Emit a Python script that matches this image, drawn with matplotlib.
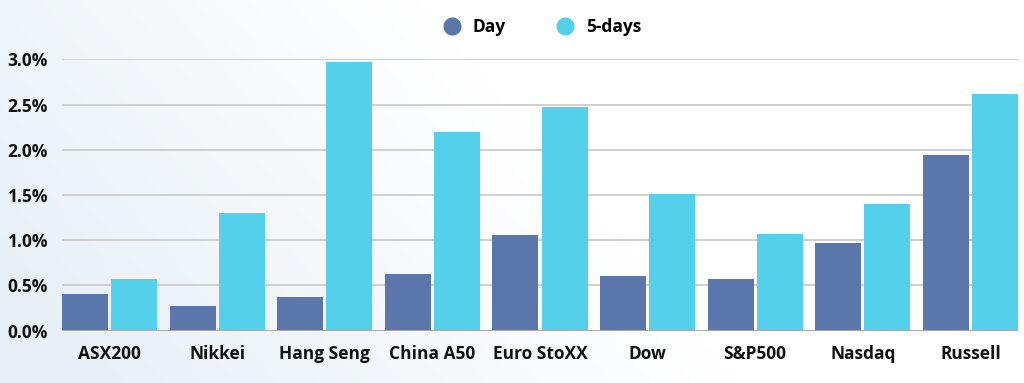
import matplotlib
matplotlib.use("Agg")
import matplotlib.pyplot as plt
import numpy as np
from matplotlib.ticker import FuncFormatter
from matplotlib.lines import Line2D

categories = ["ASX200", "Nikkei", "Hang Seng", "China A50", "Euro StoXX", "Dow", "S&P500", "Nasdaq", "Russell"]
day_values = [0.41, 0.27, 0.37, 0.63, 1.06, 0.61, 0.575, 0.97, 1.94]
five_day_values = [0.57, 1.30, 2.97, 2.20, 2.47, 1.51, 1.065, 1.40, 2.62]
series_names = ["Day", "5-days"]
y_ticks = [0.0, 0.5, 1.0, 1.5, 2.0, 2.5, 3.0]

day_color = "#5a76aa"
five_color = "#55d0eb"
font = ["Open Sans", "DejaVu Sans"]
plt.rcParams['font.family'] = font

fig = plt.figure(figsize=(10.24, 3.83), dpi=100)

# background gradient
bg = fig.add_axes([0, 0, 1, 1], zorder=-10)
bg.set_axis_off()
xx, yy = np.meshgrid(np.linspace(0, 1, 256), np.linspace(0, 1, 128))
t = np.clip(1.15 - (xx * 1.6 + (1 - yy) * 0.5), 0, 1)
c0 = np.array([1.0, 1.0, 1.0])
c1 = np.array([0.91, 0.94, 0.965])
img = c0[None, None, :] * (1 - t[..., None]) + c1[None, None, :] * t[..., None]
bg.imshow(img, aspect="auto", extent=[0, 1, 0, 1], origin="upper")

ax = fig.add_axes([62 / 1024, 1 - 330.7 / 383, (1018 - 62) / 1024, (330.7 - 59.3) / 383])
ax.patch.set_alpha(0)

x = np.arange(len(categories))
w = 0.428
gap = 0.028
off = (w + gap) / 2
ax.bar(x - off, day_values, width=w, color=day_color, zorder=3, label=series_names[0])
ax.bar(x + off, five_day_values, width=w, color=five_color, zorder=3, label=series_names[1])

ax.set_xlim(-(off + w / 2), len(categories) - 1 + off + w / 2)
ax.set_ylim(0, 3.0)
ax.set_yticks(y_ticks)
ax.yaxis.set_major_formatter(FuncFormatter(lambda v, p: f"{v:.1f}%"))
ax.set_xticks(x)
ax.set_xticklabels(categories)
for s in ax.spines.values():
    s.set_visible(False)
ax.grid(axis="y", color="#cfcfcf", linewidth=1.4, zorder=0)
ax.axhline(0, color="#a8a8a8", linewidth=1.4, zorder=4)
ax.tick_params(axis="both", length=0, labelsize=12.5, colors="#111111")
ax.tick_params(axis="x", pad=10)
ax.tick_params(axis="y", pad=10)
for lab in ax.get_xticklabels() + ax.get_yticklabels():
    lab.set_fontweight("bold")

handles = [Line2D([], [], marker="o", linestyle="", markersize=12, color=day_color),
           Line2D([], [], marker="o", linestyle="", markersize=12, color=five_color)]
leg = fig.legend(handles, series_names, loc="center", bbox_to_anchor=(538 / 1024, 1 - 27 / 383),
                 ncol=2, frameon=False, handletextpad=0.2, columnspacing=2.4,
                 prop={"family": font, "weight": "bold", "size": 12.5})

fig.savefig("out.png", dpi=100)
